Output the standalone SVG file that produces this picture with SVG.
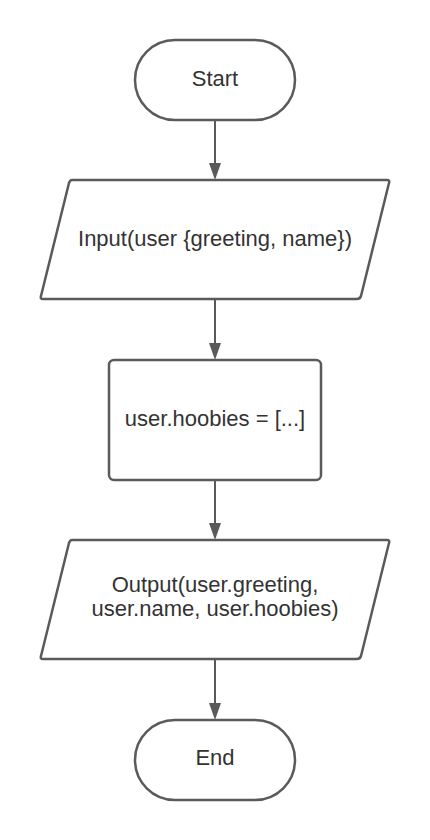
<svg xmlns="http://www.w3.org/2000/svg" width="430" height="840" viewBox="0 0 430 840">
<defs>
<style>
.s{fill:#fff;stroke:#5a5a5a;stroke-width:2.5;stroke-linejoin:round}
.t{font-family:"Liberation Sans",Arial,sans-serif;font-size:22px;fill:#333;text-anchor:middle}
.c{stroke:#5a5a5a;stroke-width:2;fill:none}
.h{fill:#5a5a5a}
</style>
</defs>
<rect width="430" height="840" fill="#fff"/>
<g id="connectors">
<line class="c" x1="215" y1="120" x2="215" y2="165"/>
<path class="h" d="M209,163 L221,163 L215,180 Z"/>
<line class="c" x1="215" y1="299" x2="215" y2="345"/>
<path class="h" d="M209,343 L221,343 L215,360 Z"/>
<line class="c" x1="215" y1="480" x2="215" y2="525"/>
<path class="h" d="M209,523 L221,523 L215,540 Z"/>
<line class="c" x1="215" y1="659" x2="215" y2="705"/>
<path class="h" d="M209,703 L221,703 L215,720 Z"/>
</g>
<g id="start">
<rect class="s" x="135" y="40" width="160" height="80" rx="40"/>
<text class="t" x="215" y="86">Start</text>
</g>
<g id="input">
<path class="s" d="M72,180 L387,180 Q390,180 389,183 L361,296 Q360,299 357,299 L43,299 Q40,299 41,296 L69,183 Q70,180 72,180 Z"/>
<text class="t" x="215" y="246">Input(user {greeting, name})</text>
</g>
<g id="process">
<rect class="s" x="109" y="360" width="212" height="120" rx="5"/>
<text class="t" x="215" y="426">user.hoobies = [...]</text>
</g>
<g id="output">
<path class="s" d="M72,540 L387,540 Q390,540 389,543 L361,656 Q360,659 357,659 L43,659 Q40,659 41,656 L69,543 Q70,540 72,540 Z"/>
<text class="t" x="215" y="592">Output(user.greeting,</text>
<text class="t" x="215" y="616">user.name, user.hoobies)</text>
</g>
<g id="end">
<rect class="s" x="135" y="720" width="160" height="80" rx="40"/>
<text class="t" x="215" y="765">End</text>
</g>
</svg>
